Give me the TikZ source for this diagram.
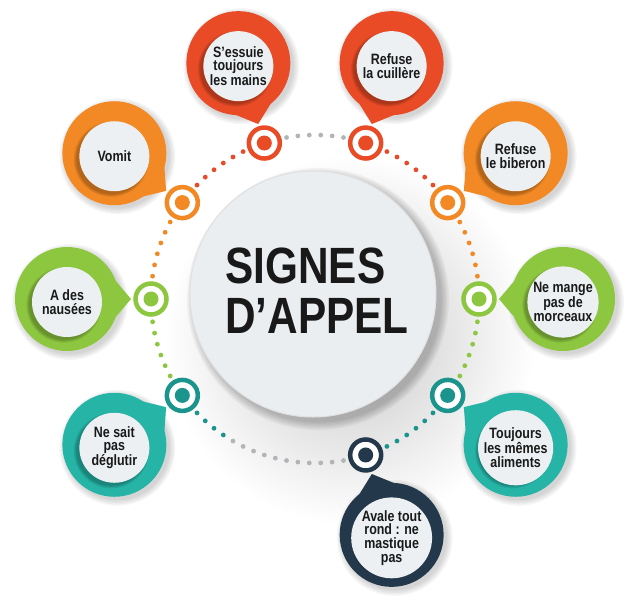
\documentclass[tikz,border=0pt]{standalone}
\usepackage{fontspec}
\usetikzlibrary{calc}
\newfontfamily\cond{Liberation Sans}[FakeStretch=0.83]
\definecolor{cRed}{RGB}{233,75,38}
\definecolor{cOrange}{RGB}{242,137,36}
\definecolor{cGreen}{RGB}{141,198,63}
\definecolor{cTeal}{RGB}{38,180,166}
\definecolor{cTealD}{RGB}{26,148,140}
\definecolor{cNavy}{RGB}{35,56,74}
\definecolor{cGray}{RGB}{178,180,183}
\definecolor{cInner}{RGB}{236,240,242}
\definecolor{cCenter}{RGB}{234,238,240}
\definecolor{cText}{RGB}{25,25,25}
\tikzset{
  bubtext/.style={circle, fill=cInner, minimum size=70pt, inner sep=0pt, align=center,
    text=cText, font=\cond\bfseries\fontsize{15}{13.6}\selectfont},
  marker/.style={circle, minimum size=31pt, inner sep=0pt, line width=4.5pt, draw=#1, fill=white},
  markerdot/.style={circle, minimum size=15pt, inner sep=0pt, fill=#1}
}
% #1 name, #2 angle, #3 bubble colour, #4 text
\newcommand\mybubble[4]{%
  \coordinate (#1B) at ($(C)+({#2}:248)$);
  \coordinate (#1T) at ($(C)+({#2}:184)$);
  \foreach \k in {1,...,5}{\fill[black,opacity=0.035] ($(#1B)+(3,-3)$) circle ({51+\k*1.4});}
  \fill[#3] ($(#1B)+({#2+152}:50)$) -- (#1T) -- ($(#1B)+({#2+208}:50)$) -- cycle;
  \node[circle, fill=#3, minimum size=104pt, inner sep=0pt] (#1) at (#1B) {};
  \foreach \k in {1,...,4}{\fill[black,opacity=0.07] ($(#1B)+(-3,-6)$) circle ({34+\k*0.9});}
  \node[bubtext] (#1txt) at ($(#1B)+(0,-3)$) {#4};
}
\begin{document}
\begin{tikzpicture}[x=1pt,y=1pt]
\useasboundingbox (0,0) rectangle (637,-600);
\coordinate (C) at (315,-299);
% background soft shadow
\shade[inner color=black!22, outer color=white] (350,-340) circle (185);
% dotted ring
\foreach \s/\col in {0/cOrange,36/cRed,72/cGray,108/cRed,144/cOrange,180/cGreen,288/cTealD,324/cGreen}{
  \foreach \j in {1,...,6}{\fill[\col] ($(C)+({\s+4+4*\j}:164)$) circle (2.4);}
}
\foreach \j in {1,...,4}{\fill[cTealD] ($(C)+({220+4*\j}:164)$) circle (2.4);}
\foreach \j in {5,...,15}{\fill[cGray] ($(C)+({220+4*\j}:164)$) circle (2.4);}
% markers
\foreach \a/\col in {108/cRed,72/cRed,144/cOrange,36/cOrange,180/cGreen,0/cGreen,216/cTealD,324/cTealD,288/cNavy}{
  \node[marker=\col] (m\a) at ($(C)+(\a:164)$) {};
  \node[markerdot=\col] (d\a) at (m\a) {};
}
% bubbles
\mybubble{b108}{108}{cRed}{S’essuie\\toujours\\les mains}
\mybubble{b72}{72}{cRed}{Refuse\\la cuillère}
\mybubble{b144}{144}{cOrange}{Vomit}
\mybubble{b36}{36}{cOrange}{Refuse\\le biberon}
\mybubble{b180}{180}{cGreen}{A des\\nausées}
\mybubble{b0}{0}{cGreen}{Ne mange\\pas de\\morceaux}
\mybubble{b216}{216}{cTeal}{Ne sait\\pas\\déglutir}
\mybubble{b324}{324}{cTeal}{Toujours\\les mêmes\\aliments}
\mybubble{b288}{288}{cNavy}{Avale tout\\rond : ne\\mastique\\pas}
% centre
\foreach \k in {1,...,6}{\fill[black,opacity=0.04] (318,-299) circle ({122+\k*1.5});}
\node[circle, fill=cCenter, draw=black!12, line width=1pt, minimum size=246pt, inner sep=0pt] (centre) at (313,-294) {};
\node[align=left, text=cText, font=\cond\bfseries\fontsize{51}{50}\selectfont] (title) at (317,-291) {SIGNES\\D’APPEL};
\end{tikzpicture}
\end{document}
